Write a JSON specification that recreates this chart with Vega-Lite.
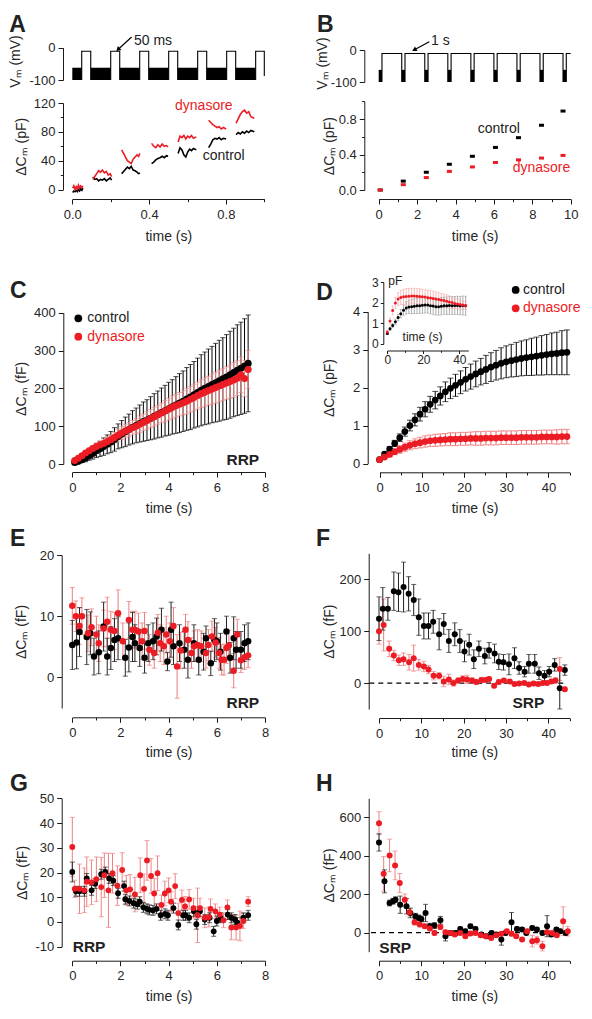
{
"$schema": "https://vega.github.io/schema/vega-lite/v6.json",
"width": 592, "height": 1019,
"autosize": {"type": "none"},
"padding": 0,
"background": "white",
"config": {
  "view": {"stroke": null},
  "axis": {"grid": false, "domainColor": "#1a1a1a", "tickColor": "#1a1a1a", "domainWidth": 1, "tickWidth": 1, "labelFont": "Liberation Sans", "labelFontSize": 13, "labelColor": "#262626", "titleFont": "Liberation Sans", "titleFontSize": 14, "titleFontWeight": "normal", "titleColor": "#262626", "labelOverlap": false, "labelFlush": false, "labelBound": false, "tickSize": 5, "labelPadding": 3, "titleBaseline": "middle"},
  "axisBottom": {"labelPadding": 4},
  "text": {"font": "Liberation Sans", "fontSize": 14, "color": "#222"}
},
"resolve": {"scale": {"x": "independent", "y": "independent"}, "axis": {"x": "independent", "y": "independent"}},
"datasets": {
 "aV": [
  {"p":0,"i":0,"t":0.049,"v":-100},{"p":0,"i":1,"t":0.049,"v":-11},{"p":0,"i":2,"t":0.096,"v":-11},{"p":0,"i":3,"t":0.096,"v":-100},
  {"p":1,"i":0,"t":0.2,"v":-100},{"p":1,"i":1,"t":0.2,"v":-11},{"p":1,"i":2,"t":0.247,"v":-11},{"p":1,"i":3,"t":0.247,"v":-100},
  {"p":2,"i":0,"t":0.351,"v":-100},{"p":2,"i":1,"t":0.351,"v":-11},{"p":2,"i":2,"t":0.398,"v":-11},{"p":2,"i":3,"t":0.398,"v":-100},
  {"p":3,"i":0,"t":0.502,"v":-100},{"p":3,"i":1,"t":0.502,"v":-11},{"p":3,"i":2,"t":0.549,"v":-11},{"p":3,"i":3,"t":0.549,"v":-100},
  {"p":4,"i":0,"t":0.653,"v":-100},{"p":4,"i":1,"t":0.653,"v":-11},{"p":4,"i":2,"t":0.7,"v":-11},{"p":4,"i":3,"t":0.7,"v":-100},
  {"p":5,"i":0,"t":0.804,"v":-100},{"p":5,"i":1,"t":0.804,"v":-11},{"p":5,"i":2,"t":0.851,"v":-11},{"p":5,"i":3,"t":0.851,"v":-100},
  {"p":6,"i":0,"t":0.955,"v":-100},{"p":6,"i":1,"t":0.955,"v":-11},{"p":6,"i":2,"t":1.0,"v":-11},{"p":6,"i":3,"t":1.0,"v":-88}
 ],
 "aBand": [
  {"t0":0,"t1":0.049},{"t0":0.096,"t1":0.2},{"t0":0.247,"t1":0.351},{"t0":0.398,"t1":0.502},{"t0":0.549,"t1":0.653},{"t0":0.7,"t1":0.804},{"t0":0.851,"t1":0.955}
 ],
 "aC": [
  {"s":"c","g":1,"t":0.002,"v":-4},{"s":"c","g":1,"t":0.008,"v":-2},{"s":"c","g":1,"t":0.014,"v":-3},{"s":"c","g":1,"t":0.02,"v":-1},{"s":"c","g":1,"t":0.026,"v":-3},{"s":"c","g":1,"t":0.032,"v":0},{"s":"c","g":1,"t":0.038,"v":-2},{"s":"c","g":1,"t":0.044,"v":1},{"s":"c","g":1,"t":0.05,"v":-1},{"s":"c","g":1,"t":0.055,"v":2},
  {"s":"c","g":2,"t":0.107,"v":17},{"s":"c","g":2,"t":0.117,"v":14},{"s":"c","g":2,"t":0.127,"v":15},{"s":"c","g":2,"t":0.137,"v":12},{"s":"c","g":2,"t":0.147,"v":14},{"s":"c","g":2,"t":0.157,"v":13},{"s":"c","g":2,"t":0.167,"v":15},{"s":"c","g":2,"t":0.177,"v":12},{"s":"c","g":2,"t":0.187,"v":14},{"s":"c","g":2,"t":0.197,"v":16},{"s":"c","g":2,"t":0.205,"v":13},
  {"s":"c","g":3,"t":0.257,"v":22},{"s":"c","g":3,"t":0.267,"v":25},{"s":"c","g":3,"t":0.277,"v":28},{"s":"c","g":3,"t":0.287,"v":31},{"s":"c","g":3,"t":0.297,"v":29},{"s":"c","g":3,"t":0.307,"v":32},{"s":"c","g":3,"t":0.317,"v":27},{"s":"c","g":3,"t":0.327,"v":26},{"s":"c","g":3,"t":0.337,"v":24},{"s":"c","g":3,"t":0.345,"v":22},{"s":"c","g":3,"t":0.352,"v":23},
  {"s":"c","g":4,"t":0.413,"v":36},{"s":"c","g":4,"t":0.424,"v":38},{"s":"c","g":4,"t":0.435,"v":41},{"s":"c","g":4,"t":0.446,"v":43},{"s":"c","g":4,"t":0.457,"v":44},{"s":"c","g":4,"t":0.468,"v":46},{"s":"c","g":4,"t":0.479,"v":44},{"s":"c","g":4,"t":0.49,"v":47},{"s":"c","g":4,"t":0.499,"v":46},
  {"s":"c","g":5,"t":0.551,"v":50},{"s":"c","g":5,"t":0.561,"v":58},{"s":"c","g":5,"t":0.571,"v":55},{"s":"c","g":5,"t":0.581,"v":48},{"s":"c","g":5,"t":0.591,"v":45},{"s":"c","g":5,"t":0.601,"v":52},{"s":"c","g":5,"t":0.611,"v":56},{"s":"c","g":5,"t":0.621,"v":54},{"s":"c","g":5,"t":0.631,"v":57},{"s":"c","g":5,"t":0.646,"v":55},
  {"s":"c","g":6,"t":0.71,"v":58},{"s":"c","g":6,"t":0.721,"v":63},{"s":"c","g":6,"t":0.732,"v":69},{"s":"c","g":6,"t":0.743,"v":71},{"s":"c","g":6,"t":0.754,"v":70},{"s":"c","g":6,"t":0.765,"v":72},{"s":"c","g":6,"t":0.776,"v":69},{"s":"c","g":6,"t":0.787,"v":71},{"s":"c","g":6,"t":0.801,"v":70},
  {"s":"c","g":7,"t":0.853,"v":76},{"s":"c","g":7,"t":0.864,"v":79},{"s":"c","g":7,"t":0.875,"v":77},{"s":"c","g":7,"t":0.886,"v":80},{"s":"c","g":7,"t":0.897,"v":78},{"s":"c","g":7,"t":0.908,"v":81},{"s":"c","g":7,"t":0.919,"v":79},{"s":"c","g":7,"t":0.93,"v":82},{"s":"c","g":7,"t":0.948,"v":80},
  {"s":"d","g":1,"t":0.002,"v":2},{"s":"d","g":1,"t":0.008,"v":5},{"s":"d","g":1,"t":0.014,"v":0},{"s":"d","g":1,"t":0.02,"v":4},{"s":"d","g":1,"t":0.026,"v":1},{"s":"d","g":1,"t":0.032,"v":6},{"s":"d","g":1,"t":0.038,"v":2},{"s":"d","g":1,"t":0.044,"v":5},{"s":"d","g":1,"t":0.05,"v":3},{"s":"d","g":1,"t":0.055,"v":5},
  {"s":"d","g":2,"t":0.107,"v":14},{"s":"d","g":2,"t":0.117,"v":18},{"s":"d","g":2,"t":0.127,"v":22},{"s":"d","g":2,"t":0.137,"v":26},{"s":"d","g":2,"t":0.147,"v":24},{"s":"d","g":2,"t":0.157,"v":27},{"s":"d","g":2,"t":0.167,"v":23},{"s":"d","g":2,"t":0.177,"v":25},{"s":"d","g":2,"t":0.187,"v":20},{"s":"d","g":2,"t":0.197,"v":22},{"s":"d","g":2,"t":0.205,"v":18},
  {"s":"d","g":3,"t":0.257,"v":55},{"s":"d","g":3,"t":0.267,"v":50},{"s":"d","g":3,"t":0.277,"v":45},{"s":"d","g":3,"t":0.287,"v":40},{"s":"d","g":3,"t":0.297,"v":38},{"s":"d","g":3,"t":0.307,"v":36},{"s":"d","g":3,"t":0.317,"v":42},{"s":"d","g":3,"t":0.327,"v":45},{"s":"d","g":3,"t":0.337,"v":48},{"s":"d","g":3,"t":0.345,"v":46},{"s":"d","g":3,"t":0.352,"v":50},
  {"s":"d","g":4,"t":0.413,"v":64},{"s":"d","g":4,"t":0.424,"v":60},{"s":"d","g":4,"t":0.435,"v":58},{"s":"d","g":4,"t":0.446,"v":62},{"s":"d","g":4,"t":0.457,"v":59},{"s":"d","g":4,"t":0.468,"v":63},{"s":"d","g":4,"t":0.479,"v":60},{"s":"d","g":4,"t":0.49,"v":61},{"s":"d","g":4,"t":0.499,"v":59},
  {"s":"d","g":5,"t":0.551,"v":66},{"s":"d","g":5,"t":0.561,"v":74},{"s":"d","g":5,"t":0.571,"v":72},{"s":"d","g":5,"t":0.581,"v":75},{"s":"d","g":5,"t":0.591,"v":70},{"s":"d","g":5,"t":0.601,"v":74},{"s":"d","g":5,"t":0.611,"v":72},{"s":"d","g":5,"t":0.621,"v":75},{"s":"d","g":5,"t":0.631,"v":71},{"s":"d","g":5,"t":0.646,"v":73},
  {"s":"d","g":6,"t":0.71,"v":96},{"s":"d","g":6,"t":0.721,"v":93},{"s":"d","g":6,"t":0.732,"v":90},{"s":"d","g":6,"t":0.743,"v":88},{"s":"d","g":6,"t":0.754,"v":86},{"s":"d","g":6,"t":0.765,"v":87},{"s":"d","g":6,"t":0.776,"v":84},{"s":"d","g":6,"t":0.787,"v":86},{"s":"d","g":6,"t":0.801,"v":84},
  {"s":"d","g":7,"t":0.853,"v":92},{"s":"d","g":7,"t":0.864,"v":98},{"s":"d","g":7,"t":0.875,"v":104},{"s":"d","g":7,"t":0.886,"v":108},{"s":"d","g":7,"t":0.897,"v":110},{"s":"d","g":7,"t":0.908,"v":106},{"s":"d","g":7,"t":0.919,"v":108},{"s":"d","g":7,"t":0.93,"v":101},{"s":"d","g":7,"t":0.948,"v":99}
 ],
 "bV": [
  {"p":0,"i":0,"t":0.17,"v":-100},{"p":0,"i":1,"t":0.17,"v":-11},{"p":0,"i":2,"t":1.2,"v":-11},{"p":0,"i":3,"t":1.2,"v":-100},
  {"p":1,"i":0,"t":1.37,"v":-100},{"p":1,"i":1,"t":1.37,"v":-11},{"p":1,"i":2,"t":2.4,"v":-11},{"p":1,"i":3,"t":2.4,"v":-100},
  {"p":2,"i":0,"t":2.57,"v":-100},{"p":2,"i":1,"t":2.57,"v":-11},{"p":2,"i":2,"t":3.6,"v":-11},{"p":2,"i":3,"t":3.6,"v":-100},
  {"p":3,"i":0,"t":3.77,"v":-100},{"p":3,"i":1,"t":3.77,"v":-11},{"p":3,"i":2,"t":4.8,"v":-11},{"p":3,"i":3,"t":4.8,"v":-100},
  {"p":4,"i":0,"t":4.97,"v":-100},{"p":4,"i":1,"t":4.97,"v":-11},{"p":4,"i":2,"t":6.0,"v":-11},{"p":4,"i":3,"t":6.0,"v":-100},
  {"p":5,"i":0,"t":6.17,"v":-100},{"p":5,"i":1,"t":6.17,"v":-11},{"p":5,"i":2,"t":7.2,"v":-11},{"p":5,"i":3,"t":7.2,"v":-100},
  {"p":6,"i":0,"t":7.37,"v":-100},{"p":6,"i":1,"t":7.37,"v":-11},{"p":6,"i":2,"t":8.4,"v":-11},{"p":6,"i":3,"t":8.4,"v":-100},
  {"p":7,"i":0,"t":8.57,"v":-100},{"p":7,"i":1,"t":8.57,"v":-11},{"p":7,"i":2,"t":9.6,"v":-11},{"p":7,"i":3,"t":9.6,"v":-100},
  {"p":8,"i":0,"t":9.77,"v":-100},{"p":8,"i":1,"t":9.77,"v":-11},{"p":8,"i":2,"t":10.0,"v":-11}
 ],
 "bBand": [
  {"t0":0,"t1":0.17},{"t0":1.2,"t1":1.37},{"t0":2.4,"t1":2.57},{"t0":3.6,"t1":3.77},{"t0":4.8,"t1":4.97},{"t0":6.0,"t1":6.17},{"t0":7.2,"t1":7.37},{"t0":8.4,"t1":8.57},{"t0":9.6,"t1":9.77}
 ],
 "bC": [
  {"s":"c","t":0.08,"v":0.0},{"s":"c","t":1.28,"v":0.1},{"s":"c","t":2.48,"v":0.2},{"s":"c","t":3.68,"v":0.29},{"s":"c","t":4.88,"v":0.38},{"s":"c","t":6.08,"v":0.48},{"s":"c","t":7.28,"v":0.59},{"s":"c","t":8.48,"v":0.73},{"s":"c","t":9.6,"v":0.89},
  {"s":"d","t":0.08,"v":0.0},{"s":"d","t":1.28,"v":0.06},{"s":"d","t":2.48,"v":0.14},{"s":"d","t":3.68,"v":0.21},{"s":"d","t":4.88,"v":0.26},{"s":"d","t":6.08,"v":0.31},{"s":"d","t":7.28,"v":0.34},{"s":"d","t":8.48,"v":0.36},{"s":"d","t":9.6,"v":0.39}
 ],
 "cD": [
  {"s":"c","t":0.1,"v":4,"e":2},{"s":"c","t":0.25,"v":7,"e":4},{"s":"c","t":0.4,"v":11,"e":7},{"s":"c","t":0.55,"v":16,"e":10},{"s":"c","t":0.7,"v":22,"e":12},{"s":"c","t":0.85,"v":28,"e":15},{"s":"c","t":1,"v":35,"e":18},{"s":"c","t":1.15,"v":40,"e":20},{"s":"c","t":1.3,"v":46,"e":23},{"s":"c","t":1.45,"v":52,"e":25},
  {"s":"c","t":1.6,"v":58,"e":28},{"s":"c","t":1.75,"v":65,"e":31},{"s":"c","t":1.9,"v":73,"e":33},{"s":"c","t":2.05,"v":79,"e":36},{"s":"c","t":2.2,"v":85,"e":39},{"s":"c","t":2.35,"v":91,"e":41},{"s":"c","t":2.5,"v":97,"e":44},{"s":"c","t":2.65,"v":102,"e":46},{"s":"c","t":2.8,"v":107,"e":49},{"s":"c","t":2.95,"v":112,"e":52},
  {"s":"c","t":3.1,"v":116,"e":54},{"s":"c","t":3.25,"v":121,"e":57},{"s":"c","t":3.4,"v":126,"e":60},{"s":"c","t":3.55,"v":131,"e":62},{"s":"c","t":3.7,"v":136,"e":65},{"s":"c","t":3.85,"v":141,"e":67},{"s":"c","t":4,"v":146,"e":70},{"s":"c","t":4.15,"v":151,"e":72},{"s":"c","t":4.3,"v":156,"e":75},{"s":"c","t":4.45,"v":161,"e":78},
  {"s":"c","t":4.6,"v":166,"e":80},{"s":"c","t":4.75,"v":172,"e":83},{"s":"c","t":4.9,"v":177,"e":86},{"s":"c","t":5.05,"v":183,"e":88},{"s":"c","t":5.2,"v":189,"e":91},{"s":"c","t":5.35,"v":195,"e":94},{"s":"c","t":5.5,"v":200,"e":96},{"s":"c","t":5.65,"v":205,"e":99},{"s":"c","t":5.8,"v":210,"e":101},{"s":"c","t":5.95,"v":215,"e":104},
  {"s":"c","t":6.1,"v":220,"e":107},{"s":"c","t":6.25,"v":225,"e":109},{"s":"c","t":6.4,"v":230,"e":112},{"s":"c","t":6.55,"v":236,"e":115},{"s":"c","t":6.7,"v":242,"e":117},{"s":"c","t":6.85,"v":248,"e":120},{"s":"c","t":7,"v":253,"e":122},{"s":"c","t":7.15,"v":259,"e":125},{"s":"c","t":7.3,"v":266,"e":128},
  {"s":"d","t":0.1,"v":9,"e":2},{"s":"d","t":0.25,"v":15,"e":4},{"s":"d","t":0.4,"v":22,"e":5},{"s":"d","t":0.55,"v":29,"e":6},{"s":"d","t":0.7,"v":35,"e":7},{"s":"d","t":0.85,"v":41,"e":8},{"s":"d","t":1,"v":46,"e":10},{"s":"d","t":1.15,"v":50,"e":11},{"s":"d","t":1.3,"v":54,"e":12},{"s":"d","t":1.45,"v":59,"e":13},
  {"s":"d","t":1.6,"v":64,"e":13},{"s":"d","t":1.75,"v":70,"e":14},{"s":"d","t":1.9,"v":76,"e":16},{"s":"d","t":2.05,"v":82,"e":17},{"s":"d","t":2.2,"v":87,"e":18},{"s":"d","t":2.35,"v":91,"e":18},{"s":"d","t":2.5,"v":96,"e":19},{"s":"d","t":2.65,"v":100,"e":20},{"s":"d","t":2.8,"v":105,"e":22},{"s":"d","t":2.95,"v":110,"e":22},
  {"s":"d","t":3.1,"v":115,"e":23},{"s":"d","t":3.25,"v":120,"e":24},{"s":"d","t":3.4,"v":125,"e":25},{"s":"d","t":3.55,"v":130,"e":25},{"s":"d","t":3.7,"v":135,"e":26},{"s":"d","t":3.85,"v":140,"e":28},{"s":"d","t":4,"v":145,"e":29},{"s":"d","t":4.15,"v":150,"e":30},{"s":"d","t":4.3,"v":154,"e":30},{"s":"d","t":4.45,"v":158,"e":31},
  {"s":"d","t":4.6,"v":162,"e":32},{"s":"d","t":4.75,"v":166,"e":34},{"s":"d","t":4.9,"v":171,"e":34},{"s":"d","t":5.05,"v":176,"e":35},{"s":"d","t":5.2,"v":181,"e":36},{"s":"d","t":5.35,"v":186,"e":37},{"s":"d","t":5.5,"v":190,"e":38},{"s":"d","t":5.65,"v":194,"e":38},{"s":"d","t":5.8,"v":198,"e":40},{"s":"d","t":5.95,"v":202,"e":41},
  {"s":"d","t":6.1,"v":206,"e":42},{"s":"d","t":6.25,"v":210,"e":42},{"s":"d","t":6.4,"v":214,"e":43},{"s":"d","t":6.55,"v":218,"e":44},{"s":"d","t":6.7,"v":222,"e":46},{"s":"d","t":6.85,"v":227,"e":46},{"s":"d","t":7,"v":236,"e":47},{"s":"d","t":7.15,"v":226,"e":48},{"s":"d","t":7.3,"v":250,"e":50}
 ],
 "dD": [
  {"s":"c","t":0,"v":0.1,"e":0.02},{"s":"c","t":1.2,"v":0.25,"e":0.04},{"s":"c","t":2.4,"v":0.38,"e":0.06},{"s":"c","t":3.6,"v":0.53,"e":0.08},{"s":"c","t":4.8,"v":0.68,"e":0.1},{"s":"c","t":6,"v":0.84,"e":0.12},{"s":"c","t":7.2,"v":1.0,"e":0.14},{"s":"c","t":8.4,"v":1.15,"e":0.16},{"s":"c","t":9.6,"v":1.3,"e":0.18},{"s":"c","t":10.8,"v":1.43,"e":0.2},
  {"s":"c","t":12,"v":1.56,"e":0.21},{"s":"c","t":13.2,"v":1.67,"e":0.23},{"s":"c","t":14.4,"v":1.78,"e":0.24},{"s":"c","t":15.6,"v":1.89,"e":0.26},{"s":"c","t":16.8,"v":1.98,"e":0.27},{"s":"c","t":18,"v":2.06,"e":0.29},{"s":"c","t":19.2,"v":2.14,"e":0.3},{"s":"c","t":20.4,"v":2.22,"e":0.31},{"s":"c","t":21.6,"v":2.29,"e":0.33},{"s":"c","t":22.8,"v":2.36,"e":0.34},
  {"s":"c","t":24,"v":2.42,"e":0.35},{"s":"c","t":25.2,"v":2.48,"e":0.37},{"s":"c","t":26.4,"v":2.54,"e":0.38},{"s":"c","t":27.6,"v":2.59,"e":0.39},{"s":"c","t":28.8,"v":2.64,"e":0.41},{"s":"c","t":30,"v":2.68,"e":0.42},{"s":"c","t":31.2,"v":2.71,"e":0.43},{"s":"c","t":32.4,"v":2.74,"e":0.45},{"s":"c","t":33.6,"v":2.77,"e":0.46},{"s":"c","t":34.8,"v":2.79,"e":0.47},
  {"s":"c","t":36,"v":2.81,"e":0.49},{"s":"c","t":37.2,"v":2.83,"e":0.5},{"s":"c","t":38.4,"v":2.85,"e":0.52},{"s":"c","t":39.6,"v":2.87,"e":0.53},{"s":"c","t":40.8,"v":2.89,"e":0.55},{"s":"c","t":42,"v":2.9,"e":0.56},{"s":"c","t":43.2,"v":2.92,"e":0.58},{"s":"c","t":44.4,"v":2.93,"e":0.59},
  {"s":"d","t":0,"v":0.1,"e":0.02},{"s":"d","t":1.2,"v":0.17,"e":0.04},{"s":"d","t":2.4,"v":0.24,"e":0.06},{"s":"d","t":3.6,"v":0.31,"e":0.08},{"s":"d","t":4.8,"v":0.37,"e":0.1},{"s":"d","t":6,"v":0.43,"e":0.11},{"s":"d","t":7.2,"v":0.48,"e":0.12},{"s":"d","t":8.4,"v":0.52,"e":0.13},{"s":"d","t":9.6,"v":0.55,"e":0.14},{"s":"d","t":10.8,"v":0.58,"e":0.15},
  {"s":"d","t":12,"v":0.6,"e":0.15},{"s":"d","t":13.2,"v":0.61,"e":0.16},{"s":"d","t":14.4,"v":0.62,"e":0.16},{"s":"d","t":15.6,"v":0.63,"e":0.16},{"s":"d","t":16.8,"v":0.64,"e":0.17},{"s":"d","t":18,"v":0.64,"e":0.17},{"s":"d","t":19.2,"v":0.65,"e":0.17},{"s":"d","t":20.4,"v":0.65,"e":0.17},{"s":"d","t":21.6,"v":0.66,"e":0.17},{"s":"d","t":22.8,"v":0.66,"e":0.18},
  {"s":"d","t":24,"v":0.66,"e":0.18},{"s":"d","t":25.2,"v":0.67,"e":0.18},{"s":"d","t":26.4,"v":0.67,"e":0.18},{"s":"d","t":27.6,"v":0.67,"e":0.18},{"s":"d","t":28.8,"v":0.68,"e":0.18},{"s":"d","t":30,"v":0.68,"e":0.18},{"s":"d","t":31.2,"v":0.68,"e":0.18},{"s":"d","t":32.4,"v":0.68,"e":0.18},{"s":"d","t":33.6,"v":0.69,"e":0.18},{"s":"d","t":34.8,"v":0.69,"e":0.18},
  {"s":"d","t":36,"v":0.69,"e":0.18},{"s":"d","t":37.2,"v":0.69,"e":0.18},{"s":"d","t":38.4,"v":0.7,"e":0.18},{"s":"d","t":39.6,"v":0.7,"e":0.18},{"s":"d","t":40.8,"v":0.7,"e":0.18},{"s":"d","t":42,"v":0.7,"e":0.19},{"s":"d","t":43.2,"v":0.71,"e":0.19},{"s":"d","t":44.4,"v":0.71,"e":0.19}
 ],
 "iD": [
  {"s":"c","t":0,"v":0.49,"e":0.05},{"s":"c","t":1.5,"v":0.73,"e":0.08},{"s":"c","t":3,"v":0.89,"e":0.1},{"s":"c","t":4.5,"v":1.07,"e":0.13},{"s":"c","t":6,"v":1.27,"e":0.16},{"s":"c","t":7.5,"v":1.46,"e":0.2},{"s":"c","t":9,"v":1.63,"e":0.25},{"s":"c","t":10.5,"v":1.74,"e":0.3},{"s":"c","t":12,"v":1.79,"e":0.33},{"s":"c","t":13.5,"v":1.8,"e":0.35},
  {"s":"c","t":15,"v":1.82,"e":0.36},{"s":"c","t":16.5,"v":1.84,"e":0.37},{"s":"c","t":18,"v":1.85,"e":0.38},{"s":"c","t":19.5,"v":1.87,"e":0.38},{"s":"c","t":21,"v":1.88,"e":0.39},{"s":"c","t":22.5,"v":1.88,"e":0.39},{"s":"c","t":24,"v":1.85,"e":0.4},{"s":"c","t":25.5,"v":1.83,"e":0.4},{"s":"c","t":27,"v":1.8,"e":0.41},{"s":"c","t":28.5,"v":1.8,"e":0.41},
  {"s":"c","t":30,"v":1.82,"e":0.42},{"s":"c","t":31.5,"v":1.85,"e":0.42},{"s":"c","t":33,"v":1.84,"e":0.43},{"s":"c","t":34.5,"v":1.86,"e":0.43},{"s":"c","t":36,"v":1.85,"e":0.44},{"s":"c","t":37.5,"v":1.86,"e":0.44},{"s":"c","t":39,"v":1.86,"e":0.45},{"s":"c","t":40.5,"v":1.85,"e":0.45},{"s":"c","t":42,"v":1.86,"e":0.46},{"s":"c","t":43.5,"v":1.85,"e":0.46},
  {"s":"d","t":0,"v":0.57,"e":0.08},{"s":"d","t":1.5,"v":1.1,"e":0.15},{"s":"d","t":3,"v":1.62,"e":0.22},{"s":"d","t":4.5,"v":1.98,"e":0.28},{"s":"d","t":6,"v":2.17,"e":0.32},{"s":"d","t":7.5,"v":2.25,"e":0.35},{"s":"d","t":9,"v":2.28,"e":0.37},{"s":"d","t":10.5,"v":2.3,"e":0.38},{"s":"d","t":12,"v":2.31,"e":0.38},{"s":"d","t":13.5,"v":2.32,"e":0.38},
  {"s":"d","t":15,"v":2.32,"e":0.38},{"s":"d","t":16.5,"v":2.31,"e":0.38},{"s":"d","t":18,"v":2.3,"e":0.38},{"s":"d","t":19.5,"v":2.28,"e":0.37},{"s":"d","t":21,"v":2.27,"e":0.37},{"s":"d","t":22.5,"v":2.24,"e":0.36},{"s":"d","t":24,"v":2.22,"e":0.36},{"s":"d","t":25.5,"v":2.2,"e":0.35},{"s":"d","t":27,"v":2.17,"e":0.35},{"s":"d","t":28.5,"v":2.15,"e":0.34},
  {"s":"d","t":30,"v":2.12,"e":0.33},{"s":"d","t":31.5,"v":2.1,"e":0.32},{"s":"d","t":33,"v":2.07,"e":0.31},{"s":"d","t":34.5,"v":2.03,"e":0.3},{"s":"d","t":36,"v":2.0,"e":0.28},{"s":"d","t":37.5,"v":1.96,"e":0.26},{"s":"d","t":39,"v":1.93,"e":0.24},{"s":"d","t":40.5,"v":1.9,"e":0.22},{"s":"d","t":42,"v":1.88,"e":0.2},{"s":"d","t":43.5,"v":1.86,"e":0.18}
 ],
 "eD": [
  {"s":"c","t":0,"v":5.3,"e":4},{"s":"c","t":0.18,"v":5.7,"e":4.3},{"s":"c","t":0.3,"v":7.4,"e":4},{"s":"c","t":0.6,"v":6.6,"e":4.5},{"s":"c","t":0.75,"v":7.2,"e":3.5},{"s":"c","t":0.9,"v":3.4,"e":3},{"s":"c","t":1.1,"v":4.1,"e":3.5},{"s":"c","t":1.3,"v":8.3,"e":4},{"s":"c","t":1.45,"v":3.4,"e":3},{"s":"c","t":1.6,"v":4.8,"e":3.5},
  {"s":"c","t":1.75,"v":6.1,"e":3.5},{"s":"c","t":1.9,"v":6.4,"e":3.5},{"s":"c","t":2.2,"v":3.2,"e":3},{"s":"c","t":2.35,"v":4.9,"e":4},{"s":"c","t":2.5,"v":6.6,"e":4},{"s":"c","t":2.6,"v":5.6,"e":3},{"s":"c","t":2.8,"v":4.8,"e":3},{"s":"c","t":3.0,"v":3.2,"e":2.5},{"s":"c","t":3.15,"v":5.6,"e":3},{"s":"c","t":3.35,"v":5.9,"e":3},
  {"s":"c","t":3.5,"v":6.7,"e":3},{"s":"c","t":3.7,"v":7.8,"e":3.5},{"s":"c","t":3.95,"v":2.6,"e":1.5},{"s":"c","t":4.1,"v":7.8,"e":4.5},{"s":"c","t":4.2,"v":5.1,"e":3},{"s":"c","t":4.45,"v":5.6,"e":3},{"s":"c","t":4.65,"v":4.5,"e":3},{"s":"c","t":4.8,"v":2.9,"e":3},{"s":"c","t":5.05,"v":5.6,"e":3},{"s":"c","t":5.25,"v":2.9,"e":2.5},
  {"s":"c","t":5.45,"v":4.2,"e":3},{"s":"c","t":5.55,"v":6.4,"e":2},{"s":"c","t":5.75,"v":2.3,"e":2},{"s":"c","t":5.9,"v":6.1,"e":3.5},{"s":"c","t":6.0,"v":5.9,"e":3},{"s":"c","t":6.15,"v":4.2,"e":3},{"s":"c","t":6.4,"v":7.5,"e":2.5},{"s":"c","t":6.55,"v":3.2,"e":2.5},{"s":"c","t":6.7,"v":6.4,"e":3.5},{"s":"c","t":6.8,"v":4.5,"e":3},
  {"s":"c","t":7.0,"v":4.5,"e":3},{"s":"c","t":7.15,"v":5.6,"e":3},{"s":"c","t":7.3,"v":5.9,"e":3},
  {"s":"d","t":0,"v":11.7,"e":3},{"s":"d","t":0.15,"v":10,"e":2.5},{"s":"d","t":0.3,"v":8.4,"e":3},{"s":"d","t":0.4,"v":10,"e":3},{"s":"d","t":0.65,"v":7.2,"e":3},{"s":"d","t":0.8,"v":8.2,"e":3},{"s":"d","t":1.0,"v":7.0,"e":3},{"s":"d","t":1.1,"v":5.6,"e":3},{"s":"d","t":1.3,"v":8.0,"e":3},{"s":"d","t":1.45,"v":9.1,"e":4},
  {"s":"d","t":1.6,"v":7.8,"e":3},{"s":"d","t":1.75,"v":7.6,"e":3},{"s":"d","t":1.9,"v":10.5,"e":3.8},{"s":"d","t":2.1,"v":5.9,"e":3},{"s":"d","t":2.35,"v":9.4,"e":3},{"s":"d","t":2.5,"v":7.8,"e":3},{"s":"d","t":2.6,"v":7.8,"e":3},{"s":"d","t":2.75,"v":7.5,"e":3},{"s":"d","t":2.9,"v":5.9,"e":3},{"s":"d","t":3.0,"v":7.6,"e":3},
  {"s":"d","t":3.2,"v":4.5,"e":2.5},{"s":"d","t":3.4,"v":4.0,"e":2.5},{"s":"d","t":3.55,"v":7.3,"e":3},{"s":"d","t":3.65,"v":5.6,"e":3},{"s":"d","t":3.8,"v":5.1,"e":3},{"s":"d","t":3.9,"v":7.0,"e":3},{"s":"d","t":4.05,"v":5.9,"e":3},{"s":"d","t":4.2,"v":8.4,"e":3},{"s":"d","t":4.35,"v":1.8,"e":5.2},{"s":"d","t":4.5,"v":4.4,"e":3},
  {"s":"d","t":4.7,"v":7.8,"e":2.5},{"s":"d","t":4.8,"v":6.1,"e":3},{"s":"d","t":4.95,"v":4.0,"e":2.5},{"s":"d","t":5.05,"v":5.1,"e":2.5},{"s":"d","t":5.2,"v":5.3,"e":2.5},{"s":"d","t":5.35,"v":5.1,"e":2.5},{"s":"d","t":5.55,"v":4.0,"e":2.5},{"s":"d","t":5.65,"v":5.3,"e":2.5},{"s":"d","t":5.8,"v":6.7,"e":2.5},{"s":"d","t":5.95,"v":5.7,"e":2.5},
  {"s":"d","t":6.1,"v":4.0,"e":2.5},{"s":"d","t":6.2,"v":2.9,"e":2.5},{"s":"d","t":6.3,"v":2.9,"e":2.5},{"s":"d","t":6.4,"v":4.8,"e":2.5},{"s":"d","t":6.5,"v":5.2,"e":2.5},{"s":"d","t":6.7,"v":1.1,"e":2.8},{"s":"d","t":6.85,"v":7.0,"e":2.5},{"s":"d","t":7.0,"v":2.8,"e":2},{"s":"d","t":7.15,"v":3.3,"e":2},{"s":"d","t":7.3,"v":3.6,"e":2}
 ],
 "fD": [
  {"s":"c","t":0,"v":124,"e":42},{"s":"c","t":0.9,"v":143,"e":41},{"s":"c","t":2.1,"v":143,"e":22},{"s":"c","t":3.5,"v":177,"e":37},{"s":"c","t":4.6,"v":175,"e":37},{"s":"c","t":5.8,"v":185,"e":48},{"s":"c","t":7.0,"v":172,"e":33},{"s":"c","t":8.2,"v":160,"e":30},{"s":"c","t":9.4,"v":127,"e":35},{"s":"c","t":10.6,"v":110,"e":25},
  {"s":"c","t":11.7,"v":110,"e":25},{"s":"c","t":12.8,"v":118,"e":22},{"s":"c","t":14.2,"v":94,"e":30},{"s":"c","t":15.3,"v":114,"e":20},{"s":"c","t":16.5,"v":81,"e":22},{"s":"c","t":17.9,"v":94,"e":22},{"s":"c","t":19.1,"v":81,"e":22},{"s":"c","t":20.2,"v":61,"e":20},{"s":"c","t":21.3,"v":74,"e":20},{"s":"c","t":22.4,"v":46,"e":18},
  {"s":"c","t":23.6,"v":66,"e":15},{"s":"c","t":25.0,"v":52,"e":15},{"s":"c","t":26.0,"v":63,"e":15},{"s":"c","t":27.3,"v":57,"e":18},{"s":"c","t":28.3,"v":41,"e":15},{"s":"c","t":29.4,"v":40,"e":15},{"s":"c","t":30.7,"v":36,"e":20},{"s":"c","t":32.0,"v":48,"e":20},{"s":"c","t":33.1,"v":29,"e":12},{"s":"c","t":34.4,"v":22,"e":10},
  {"s":"c","t":35.4,"v":37,"e":18},{"s":"c","t":36.8,"v":37,"e":18},{"s":"c","t":37.8,"v":19,"e":12},{"s":"c","t":39.1,"v":14,"e":10},{"s":"c","t":40.2,"v":22,"e":10},{"s":"c","t":41.5,"v":35,"e":12},{"s":"c","t":42.7,"v":-10,"e":40},{"s":"c","t":43.9,"v":25,"e":10},
  {"s":"d","t":0,"v":100,"e":25},{"s":"d","t":1.1,"v":112,"e":50},{"s":"d","t":2.4,"v":66,"e":15},{"s":"d","t":3.5,"v":53,"e":10},{"s":"d","t":4.7,"v":44,"e":10},{"s":"d","t":5.8,"v":46,"e":12},{"s":"d","t":7.1,"v":40,"e":15},{"s":"d","t":8.2,"v":48,"e":25},{"s":"d","t":9.4,"v":35,"e":10},{"s":"d","t":10.6,"v":32,"e":10},
  {"s":"d","t":11.7,"v":26,"e":8},{"s":"d","t":12.9,"v":14,"e":8},{"s":"d","t":14.2,"v":14,"e":6},{"s":"d","t":15.3,"v":3,"e":10},{"s":"d","t":16.5,"v":7,"e":10},{"s":"d","t":17.6,"v":0,"e":6},{"s":"d","t":18.7,"v":5,"e":5},{"s":"d","t":19.8,"v":8,"e":6},{"s":"d","t":20.8,"v":7,"e":8},{"s":"d","t":22.0,"v":5,"e":5},
  {"s":"d","t":23.0,"v":2,"e":5},{"s":"d","t":24.2,"v":6,"e":5},{"s":"d","t":25.2,"v":6,"e":4},{"s":"d","t":26.0,"v":8,"e":4},{"s":"d","t":27.2,"v":-5,"e":4},{"s":"d","t":28.3,"v":2,"e":4},{"s":"d","t":29.5,"v":5,"e":4},{"s":"d","t":30.9,"v":3,"e":4},{"s":"d","t":32.0,"v":-2,"e":3},{"s":"d","t":33.1,"v":-1,"e":3},
  {"s":"d","t":34.3,"v":0,"e":3},{"s":"d","t":35.4,"v":-3,"e":3},{"s":"d","t":36.5,"v":-1,"e":3},{"s":"d","t":37.6,"v":-2,"e":3},{"s":"d","t":38.7,"v":0,"e":3},{"s":"d","t":39.7,"v":0,"e":3},{"s":"d","t":40.7,"v":3,"e":3},{"s":"d","t":41.7,"v":5,"e":5},{"s":"d","t":42.7,"v":27,"e":22},{"s":"d","t":43.9,"v":-12,"e":4}
 ],
 "gD": [
  {"s":"c","t":0,"v":20.2,"e":4},{"s":"c","t":0.15,"v":12.4,"e":2},{"s":"c","t":0.3,"v":12.4,"e":2},{"s":"c","t":0.5,"v":12.4,"e":2},{"s":"c","t":0.6,"v":17.6,"e":2},{"s":"c","t":0.8,"v":12.8,"e":2},{"s":"c","t":0.95,"v":15.5,"e":2},{"s":"c","t":1.2,"v":19.3,"e":2},{"s":"c","t":1.37,"v":20.2,"e":2},{"s":"c","t":1.53,"v":17.6,"e":2},
  {"s":"c","t":1.7,"v":16.7,"e":2},{"s":"c","t":1.9,"v":11.6,"e":2},{"s":"c","t":2.15,"v":14.5,"e":2},{"s":"c","t":2.2,"v":9.2,"e":2},{"s":"c","t":2.37,"v":8.5,"e":2},{"s":"c","t":2.55,"v":7.6,"e":2},{"s":"c","t":2.7,"v":7.2,"e":2},{"s":"c","t":2.8,"v":8.2,"e":2},{"s":"c","t":2.95,"v":5.9,"e":2},{"s":"c","t":3.1,"v":5.3,"e":2},
  {"s":"c","t":3.2,"v":4.9,"e":2},{"s":"c","t":3.35,"v":4.7,"e":2},{"s":"c","t":3.5,"v":5.3,"e":2},{"s":"c","t":3.67,"v":2.7,"e":2},{"s":"c","t":3.85,"v":3.3,"e":2},{"s":"c","t":3.97,"v":2.7,"e":2},{"s":"c","t":4.2,"v":5.6,"e":2},{"s":"c","t":4.4,"v":-1.2,"e":2},{"s":"c","t":4.6,"v":2.7,"e":2},{"s":"c","t":4.7,"v":2.7,"e":2},
  {"s":"c","t":4.85,"v":1.7,"e":2},{"s":"c","t":5.05,"v":4.3,"e":2},{"s":"c","t":5.15,"v":-0.9,"e":2},{"s":"c","t":5.3,"v":4.3,"e":2},{"s":"c","t":5.5,"v":1.0,"e":2},{"s":"c","t":5.7,"v":1.7,"e":2},{"s":"c","t":5.87,"v":-3.8,"e":2},{"s":"c","t":6.0,"v":0.4,"e":2},{"s":"c","t":6.15,"v":1.7,"e":2},{"s":"c","t":6.45,"v":3.0,"e":2},
  {"s":"c","t":6.6,"v":1.7,"e":2},{"s":"c","t":6.75,"v":1.0,"e":2},{"s":"c","t":6.85,"v":-0.3,"e":2},{"s":"c","t":7.1,"v":1.7,"e":2},{"s":"c","t":7.3,"v":2.7,"e":2},
  {"s":"d","t":0,"v":30.3,"e":12},{"s":"d","t":0.1,"v":13.4,"e":3.5},{"s":"d","t":0.3,"v":13.4,"e":10},{"s":"d","t":0.5,"v":12.8,"e":9},{"s":"d","t":0.6,"v":16.3,"e":10},{"s":"d","t":0.8,"v":16,"e":9},{"s":"d","t":1.0,"v":17.3,"e":9},{"s":"d","t":1.2,"v":14.1,"e":12},{"s":"d","t":1.33,"v":18.9,"e":9},{"s":"d","t":1.5,"v":12.8,"e":15},
  {"s":"d","t":1.67,"v":19.7,"e":8},{"s":"d","t":1.87,"v":14.7,"e":8},{"s":"d","t":2.07,"v":21,"e":7},{"s":"d","t":2.24,"v":12.8,"e":6},{"s":"d","t":2.4,"v":13.2,"e":6},{"s":"d","t":2.6,"v":11.1,"e":7},{"s":"d","t":2.82,"v":18.9,"e":7},{"s":"d","t":2.98,"v":13.4,"e":6},{"s":"d","t":3.1,"v":24.9,"e":8},{"s":"d","t":3.27,"v":18.6,"e":7},
  {"s":"d","t":3.4,"v":11.5,"e":6},{"s":"d","t":3.54,"v":19.7,"e":7},{"s":"d","t":3.7,"v":6.9,"e":4},{"s":"d","t":3.84,"v":11.5,"e":5},{"s":"d","t":4.0,"v":12.8,"e":5},{"s":"d","t":4.1,"v":8.2,"e":4},{"s":"d","t":4.27,"v":14.5,"e":5},{"s":"d","t":4.4,"v":3.6,"e":4},{"s":"d","t":4.55,"v":8.9,"e":4},{"s":"d","t":4.68,"v":6.3,"e":4},
  {"s":"d","t":4.85,"v":9.1,"e":4},{"s":"d","t":5.03,"v":5.6,"e":4},{"s":"d","t":5.2,"v":2.7,"e":11},{"s":"d","t":5.3,"v":5.6,"e":4},{"s":"d","t":5.5,"v":1.7,"e":4},{"s":"d","t":5.67,"v":2.0,"e":4},{"s":"d","t":5.74,"v":5.3,"e":4},{"s":"d","t":5.94,"v":4.3,"e":3},{"s":"d","t":6.12,"v":3.0,"e":3},{"s":"d","t":6.28,"v":0.7,"e":3},
  {"s":"d","t":6.44,"v":5.9,"e":3},{"s":"d","t":6.6,"v":-2.2,"e":5},{"s":"d","t":6.8,"v":-2.2,"e":5},{"s":"d","t":6.96,"v":-1.6,"e":6},{"s":"d","t":7.1,"v":0.4,"e":3},{"s":"d","t":7.3,"v":8.2,"e":2}
 ],
 "hD": [
  {"s":"c","t":0,"v":470,"e":45},{"s":"c","t":1.3,"v":267,"e":60},{"s":"c","t":2.5,"v":154,"e":15},{"s":"c","t":3.3,"v":163,"e":15},{"s":"c","t":3.9,"v":171,"e":15},{"s":"c","t":5.0,"v":145,"e":45},{"s":"c","t":6.5,"v":137,"e":40},{"s":"c","t":7.4,"v":102,"e":25},{"s":"c","t":8.6,"v":85,"e":15},{"s":"c","t":9.4,"v":76,"e":15},
  {"s":"c","t":10,"v":71,"e":15},{"s":"c","t":11,"v":102,"e":45},{"s":"c","t":12,"v":33,"e":15},{"s":"c","t":13.1,"v":36,"e":15},{"s":"c","t":14.5,"v":64,"e":20},{"s":"c","t":15.7,"v":-19,"e":25},{"s":"c","t":16.9,"v":-2,"e":12},{"s":"c","t":18.1,"v":-2,"e":12},{"s":"c","t":19.2,"v":19,"e":10},{"s":"c","t":20.4,"v":7,"e":10},
  {"s":"c","t":21.6,"v":33,"e":10},{"s":"c","t":22.8,"v":19,"e":10},{"s":"c","t":24.2,"v":-10,"e":10},{"s":"c","t":25.4,"v":-19,"e":10},{"s":"c","t":26.6,"v":-2,"e":10},{"s":"c","t":27.7,"v":-10,"e":10},{"s":"c","t":28.9,"v":-36,"e":30},{"s":"c","t":29.9,"v":-2,"e":10},{"s":"c","t":31.3,"v":54,"e":50},{"s":"c","t":32.6,"v":19,"e":10},
  {"s":"c","t":33.8,"v":16,"e":10},{"s":"c","t":34.8,"v":-2,"e":10},{"s":"c","t":36.2,"v":24,"e":10},{"s":"c","t":37.3,"v":16,"e":10},{"s":"c","t":38.6,"v":-2,"e":10},{"s":"c","t":39.7,"v":33,"e":55},{"s":"c","t":40.7,"v":-10,"e":10},{"s":"c","t":41.9,"v":16,"e":10},{"s":"c","t":42.8,"v":7,"e":10},{"s":"c","t":44.1,"v":-2,"e":10},
  {"s":"d","t":0,"v":570,"e":60},{"s":"d","t":1.1,"v":306,"e":90},{"s":"d","t":2.5,"v":402,"e":85},{"s":"d","t":3.8,"v":350,"e":75},{"s":"d","t":4.9,"v":258,"e":50},{"s":"d","t":6.1,"v":171,"e":30},{"s":"d","t":7.2,"v":106,"e":20},{"s":"d","t":8.4,"v":54,"e":15},{"s":"d","t":9.6,"v":42,"e":12},{"s":"d","t":10.8,"v":33,"e":12},
  {"s":"d","t":12,"v":21,"e":12},{"s":"d","t":13.1,"v":-2,"e":12},{"s":"d","t":14.5,"v":29,"e":12},{"s":"d","t":15.7,"v":2,"e":10},{"s":"d","t":16.9,"v":-2,"e":10},{"s":"d","t":17.9,"v":-10,"e":10},{"s":"d","t":19.2,"v":-2,"e":10},{"s":"d","t":20.4,"v":-19,"e":10},{"s":"d","t":21.6,"v":-5,"e":10},{"s":"d","t":22.8,"v":-2,"e":10},
  {"s":"d","t":24,"v":-14,"e":10},{"s":"d","t":25.2,"v":-19,"e":10},{"s":"d","t":26.5,"v":-28,"e":10},{"s":"d","t":27.7,"v":-14,"e":10},{"s":"d","t":28.9,"v":-7,"e":10},{"s":"d","t":30.2,"v":7,"e":10},{"s":"d","t":31.3,"v":-7,"e":10},{"s":"d","t":32.4,"v":-19,"e":10},{"s":"d","t":33.8,"v":-36,"e":10},{"s":"d","t":35,"v":7,"e":10},
  {"s":"d","t":36.2,"v":-45,"e":30},{"s":"d","t":37.3,"v":-40,"e":20},{"s":"d","t":38.6,"v":-71,"e":25},{"s":"d","t":39.7,"v":2,"e":10},{"s":"d","t":40.9,"v":-2,"e":10},{"s":"d","t":42,"v":-14,"e":10},{"s":"d","t":43.5,"v":59,"e":75},{"s":"d","t":44.6,"v":7,"e":25}
 ]
},
"layer": [
 {"data": {"name": "aV"}, "mark": {"type": "line", "color": "#000", "strokeWidth": 1.1},
  "encoding": {"x": {"field": "t", "type": "quantitative", "scale": {"domain": [0, 1], "range": [72.3, 264.3], "nice": false}, "axis": null},
   "y": {"field": "v", "type": "quantitative", "scale": {"domain": [-100, 0], "range": [80, 47.7], "nice": false}, "axis": {"orient": "left", "offset": -63, "values": [-100, 0], "labelExpr": "''+datum.value", "title": "Vₘ (mV)", "titleX": -48, "titleY": 61}},
   "detail": {"field": "p"}, "order": {"field": "i"}}},
 {"data": {"name": "aBand"}, "mark": {"type": "rect", "color": "#000"},
  "encoding": {"x": {"field": "t0", "type": "quantitative", "scale": {"domain": [0, 1], "range": [72.3, 264.3], "nice": false}, "axis": null}, "x2": {"field": "t1"},
   "y": {"datum": -62, "type": "quantitative", "scale": {"domain": [-100, 0], "range": [80, 47.7], "nice": false}, "axis": null}, "y2": {"datum": -100}}},
 {"data": {"values": [{}]}, "mark": {"type": "text", "text": "A", "fontSize": 23, "fontWeight": "bold", "align": "left", "baseline": "alphabetic"},
  "encoding": {"x": {"datum": -0.328, "type": "quantitative", "scale": {"domain": [0, 1], "range": [72.3, 264.3], "nice": false}, "axis": null}, "y": {"datum": 49.5, "type": "quantitative", "scale": {"domain": [-100, 0], "range": [80, 47.7], "nice": false}, "axis": null}}},
 {"data": {"values": [{}]}, "mark": {"type": "text", "text": "50 ms", "align": "left", "baseline": "alphabetic"},
  "encoding": {"x": {"datum": 0.321, "type": "quantitative", "scale": {"domain": [0, 1], "range": [72.3, 264.3], "nice": false}, "axis": null}, "y": {"datum": 8.4, "type": "quantitative", "scale": {"domain": [-100, 0], "range": [80, 47.7], "nice": false}, "axis": null}}},
 {"data": {"values": [{}]}, "mark": {"type": "rule", "color": "#000", "strokeWidth": 1.2},
  "encoding": {"x": {"datum": 0.309, "type": "quantitative", "scale": {"domain": [0, 1], "range": [72.3, 264.3], "nice": false}, "axis": null}, "x2": {"datum": 0.241}, "y": {"datum": 33, "type": "quantitative", "scale": {"domain": [-100, 0], "range": [80, 47.7], "nice": false}, "axis": null}, "y2": {"datum": -4}}},
 {"data": {"values": [{}]}, "mark": {"type": "point", "shape": "triangle", "filled": true, "opacity": 1, "size": 28, "angle": 227.6, "color": "#000"},
  "encoding": {"x": {"datum": 0.241, "type": "quantitative", "scale": {"domain": [0, 1], "range": [72.3, 264.3], "nice": false}, "axis": null}, "y": {"datum": -4, "type": "quantitative", "scale": {"domain": [-100, 0], "range": [80, 47.7], "nice": false}, "axis": null}}},

 {"data": {"name": "aC"}, "transform": [{"filter": "datum.s=='c'"}], "mark": {"type": "line", "color": "#000", "strokeWidth": 1.6},
  "encoding": {"x": {"field": "t", "type": "quantitative", "scale": {"domain": [0, 1], "range": [72.3, 264.3], "nice": false}, "axis": {"orient": "bottom", "offset": -820, "values": [0, 0.2, 0.4, 0.6, 0.8, 1], "labelExpr": "round(datum.value*10)%4==0 ? format(datum.value,'.1f') : ''", "tickDash": {"condition": {"test": "round(datum.value*10)%4==0", "value": []}, "value": [2.7, 20]}, "title": "time (s)", "titleY": 37}},
   "y": {"field": "v", "type": "quantitative", "scale": {"domain": [0, 120], "range": [189.5, 103], "nice": false}, "axis": {"orient": "left", "offset": -63, "values": [0, 20, 40, 60, 80, 100, 120], "labelExpr": "datum.value%40==0 ? ''+datum.value : ''", "tickDash": {"condition": {"test": "datum.value%40==0", "value": []}, "value": [2.7, 20]}, "title": "ΔCₘ (pF)", "titleX": -42}},
   "detail": {"field": "g"}}},
 {"data": {"name": "aC"}, "transform": [{"filter": "datum.s=='d'"}], "mark": {"type": "line", "color": "#ec1c24", "strokeWidth": 1.6},
  "encoding": {"x": {"field": "t", "type": "quantitative", "scale": {"domain": [0, 1], "range": [72.3, 264.3], "nice": false}, "axis": null},
   "y": {"field": "v", "type": "quantitative", "scale": {"domain": [0, 120], "range": [189.5, 103], "nice": false}, "axis": null},
   "detail": {"field": "g"}}},
 {"data": {"values": [{}]}, "mark": {"type": "text", "text": "dynasore", "color": "#ec1c24", "align": "left", "baseline": "alphabetic"},
  "encoding": {"x": {"datum": 0.535, "type": "quantitative", "scale": {"domain": [0, 1], "range": [72.3, 264.3], "nice": false}, "axis": null}, "y": {"datum": 109.6, "type": "quantitative", "scale": {"domain": [0, 120], "range": [189.5, 103], "nice": false}, "axis": null}}},
 {"data": {"values": [{}]}, "mark": {"type": "text", "text": "control", "align": "left", "baseline": "alphabetic"},
  "encoding": {"x": {"datum": 0.679, "type": "quantitative", "scale": {"domain": [0, 1], "range": [72.3, 264.3], "nice": false}, "axis": null}, "y": {"datum": 40.9, "type": "quantitative", "scale": {"domain": [0, 120], "range": [189.5, 103], "nice": false}, "axis": null}}},

 {"data": {"name": "bV"}, "mark": {"type": "line", "color": "#000", "strokeWidth": 1.1},
  "encoding": {"x": {"field": "t", "type": "quantitative", "scale": {"domain": [0, 10], "range": [378.7, 570.7], "nice": false}, "axis": null},
   "y": {"field": "v", "type": "quantitative", "scale": {"domain": [-100, 0], "range": [82, 50], "nice": false}, "axis": {"orient": "left", "offset": -364.3, "values": [-100, 0], "labelExpr": "''+datum.value", "title": "Vₘ (mV)", "titleX": -41.6, "titleY": 63}},
   "detail": {"field": "p"}, "order": {"field": "i"}}},
 {"data": {"name": "bBand"}, "mark": {"type": "rect", "color": "#000"},
  "encoding": {"x": {"field": "t0", "type": "quantitative", "scale": {"domain": [0, 10], "range": [378.7, 570.7], "nice": false}, "axis": null}, "x2": {"field": "t1"},
   "y": {"datum": -62, "type": "quantitative", "scale": {"domain": [-100, 0], "range": [82, 50], "nice": false}, "axis": null}, "y2": {"datum": -100}}},
 {"data": {"values": [{}]}, "mark": {"type": "text", "text": "B", "fontSize": 23, "fontWeight": "bold", "align": "left", "baseline": "alphabetic"},
  "encoding": {"x": {"datum": -3.21, "type": "quantitative", "scale": {"domain": [0, 10], "range": [378.7, 570.7], "nice": false}, "axis": null}, "y": {"datum": 57.2, "type": "quantitative", "scale": {"domain": [-100, 0], "range": [82, 50], "nice": false}, "axis": null}}},
 {"data": {"values": [{}]}, "mark": {"type": "text", "text": "1 s", "align": "left", "baseline": "alphabetic"},
  "encoding": {"x": {"datum": 2.724, "type": "quantitative", "scale": {"domain": [0, 10], "range": [378.7, 570.7], "nice": false}, "axis": null}, "y": {"datum": 15.6, "type": "quantitative", "scale": {"domain": [-100, 0], "range": [82, 50], "nice": false}, "axis": null}}},
 {"data": {"values": [{}]}, "mark": {"type": "rule", "color": "#000", "strokeWidth": 1.2},
  "encoding": {"x": {"datum": 2.635, "type": "quantitative", "scale": {"domain": [0, 10], "range": [378.7, 570.7], "nice": false}, "axis": null}, "x2": {"datum": 1.885}, "y": {"datum": 25.9, "type": "quantitative", "scale": {"domain": [-100, 0], "range": [82, 50], "nice": false}, "axis": null}, "y2": {"datum": 1.6}}},
 {"data": {"values": [{}]}, "mark": {"type": "point", "shape": "triangle", "filled": true, "opacity": 1, "size": 28, "angle": 241.5, "color": "#000"},
  "encoding": {"x": {"datum": 1.885, "type": "quantitative", "scale": {"domain": [0, 10], "range": [378.7, 570.7], "nice": false}, "axis": null}, "y": {"datum": 1.6, "type": "quantitative", "scale": {"domain": [-100, 0], "range": [82, 50], "nice": false}, "axis": null}}},

 {"data": {"name": "bC"}, "transform": [{"filter": "datum.s=='c'"}], "mark": {"type": "tick", "orient": "horizontal", "color": "#000", "opacity": 1, "size": 5, "thickness": 3},
  "encoding": {"x": {"field": "t", "type": "quantitative", "scale": {"domain": [0, 10], "range": [378.7, 570.7], "nice": false}, "axis": {"orient": "bottom", "offset": -820, "values": [0, 1, 2, 3, 4, 5, 6, 7, 8, 9, 10], "labelExpr": "datum.value%2==0 ? ''+datum.value : ''", "tickDash": {"condition": {"test": "datum.value%2==0", "value": []}, "value": [2.7, 20]}, "title": "time (s)", "titleY": 37}},
   "y": {"field": "v", "type": "quantitative", "scale": {"domain": [0, 1], "range": [190, 101.3], "nice": false}, "axis": {"orient": "left", "offset": -364.3, "values": [0, 0.2, 0.4, 0.6, 0.8, 1], "labelExpr": "round(datum.value*10)%4==0 ? format(datum.value,'.1f') : ''", "tickDash": {"condition": {"test": "round(datum.value*10)%4==0", "value": []}, "value": [2.7, 20]}, "title": "ΔCₘ (pF)", "titleX": -35}}}},
 {"data": {"name": "bC"}, "transform": [{"filter": "datum.s=='d'"}], "mark": {"type": "tick", "orient": "horizontal", "color": "#ec1c24", "opacity": 1, "size": 5, "thickness": 3},
  "encoding": {"x": {"field": "t", "type": "quantitative", "scale": {"domain": [0, 10], "range": [378.7, 570.7], "nice": false}, "axis": null},
   "y": {"field": "v", "type": "quantitative", "scale": {"domain": [0, 1], "range": [190, 101.3], "nice": false}, "axis": null}}},
 {"data": {"values": [{}]}, "mark": {"type": "text", "text": "control", "align": "left", "baseline": "alphabetic"},
  "encoding": {"x": {"datum": 5.16, "type": "quantitative", "scale": {"domain": [0, 10], "range": [378.7, 570.7], "nice": false}, "axis": null}, "y": {"datum": 0.639, "type": "quantitative", "scale": {"domain": [0, 1], "range": [190, 101.3], "nice": false}, "axis": null}}},
 {"data": {"values": [{}]}, "mark": {"type": "text", "text": "dynasore", "color": "#ec1c24", "align": "left", "baseline": "alphabetic"},
  "encoding": {"x": {"datum": 6.98, "type": "quantitative", "scale": {"domain": [0, 10], "range": [378.7, 570.7], "nice": false}, "axis": null}, "y": {"datum": 0.203, "type": "quantitative", "scale": {"domain": [0, 1], "range": [190, 101.3], "nice": false}, "axis": null}}},

 {"data": {"name": "cD"}, "transform": [{"filter": "datum.s=='c'"}], "mark": {"type": "errorbar", "ticks": true, "color": "#000", "thickness": 1, "size": 5},
  "encoding": {"x": {"field": "t", "type": "quantitative", "scale": {"domain": [0, 8], "range": [72.3, 265], "nice": false}, "axis": null}, "y": {"field": "v", "type": "quantitative", "scale": {"domain": [0, 400], "range": [464, 312.7], "nice": false}, "axis": null}, "yError": {"field": "e"}}},
 {"data": {"name": "cD"}, "transform": [{"filter": "datum.s=='d'"}], "mark": {"type": "errorbar", "ticks": true, "color": "#f08a8a", "thickness": 1, "size": 5},
  "encoding": {"x": {"field": "t", "type": "quantitative", "scale": {"domain": [0, 8], "range": [72.3, 265], "nice": false}, "axis": null}, "y": {"field": "v", "type": "quantitative", "scale": {"domain": [0, 400], "range": [464, 312.7], "nice": false}, "axis": null}, "yError": {"field": "e"}}},
 {"data": {"name": "cD"}, "transform": [{"filter": "datum.s=='c'"}], "mark": {"type": "point", "filled": true, "opacity": 1, "size": 50, "color": "#000"},
  "encoding": {"x": {"field": "t", "type": "quantitative", "scale": {"domain": [0, 8], "range": [72.3, 265], "nice": false}, "axis": {"orient": "bottom", "offset": -547, "values": [0, 1, 2, 3, 4, 5, 6, 7, 8], "labelExpr": "datum.value%2==0 ? ''+datum.value : ''", "tickDash": {"condition": {"test": "datum.value%2==0", "value": []}, "value": [2.7, 20]}, "title": "time (s)", "titleY": 36}},
   "y": {"field": "v", "type": "quantitative", "scale": {"domain": [0, 400], "range": [464, 312.7], "nice": false}, "axis": {"orient": "left", "offset": -63.3, "values": [0, 100, 200, 300, 400], "labelExpr": "''+datum.value", "title": "ΔCₘ (fF)", "titleX": -41.8}}}},
 {"data": {"name": "cD"}, "transform": [{"filter": "datum.s=='d'"}], "mark": {"type": "point", "filled": true, "opacity": 1, "size": 50, "color": "#ec1c24"},
  "encoding": {"x": {"field": "t", "type": "quantitative", "scale": {"domain": [0, 8], "range": [72.3, 265], "nice": false}, "axis": null}, "y": {"field": "v", "type": "quantitative", "scale": {"domain": [0, 400], "range": [464, 312.7], "nice": false}, "axis": null}}},
 {"data": {"values": [{}]}, "mark": {"type": "point", "filled": true, "opacity": 1, "size": 60, "color": "#000"},
  "encoding": {"x": {"datum": 0.25, "type": "quantitative", "scale": {"domain": [0, 8], "range": [72.3, 265], "nice": false}, "axis": null}, "y": {"datum": 385, "type": "quantitative", "scale": {"domain": [0, 400], "range": [464, 312.7], "nice": false}, "axis": null}}},
 {"data": {"values": [{}]}, "mark": {"type": "point", "filled": true, "opacity": 1, "size": 60, "color": "#ec1c24"},
  "encoding": {"x": {"datum": 0.25, "type": "quantitative", "scale": {"domain": [0, 8], "range": [72.3, 265], "nice": false}, "axis": null}, "y": {"datum": 336.5, "type": "quantitative", "scale": {"domain": [0, 400], "range": [464, 312.7], "nice": false}, "axis": null}}},
 {"data": {"values": [{}]}, "mark": {"type": "text", "text": "control", "align": "left", "baseline": "middle"},
  "encoding": {"x": {"datum": 0.623, "type": "quantitative", "scale": {"domain": [0, 8], "range": [72.3, 265], "nice": false}, "axis": null}, "y": {"datum": 385, "type": "quantitative", "scale": {"domain": [0, 400], "range": [464, 312.7], "nice": false}, "axis": null}}},
 {"data": {"values": [{}]}, "mark": {"type": "text", "text": "dynasore", "color": "#ec1c24", "align": "left", "baseline": "middle"},
  "encoding": {"x": {"datum": 0.623, "type": "quantitative", "scale": {"domain": [0, 8], "range": [72.3, 265], "nice": false}, "axis": null}, "y": {"datum": 336.5, "type": "quantitative", "scale": {"domain": [0, 400], "range": [464, 312.7], "nice": false}, "axis": null}}},
 {"data": {"values": [{}]}, "mark": {"type": "text", "text": "RRP", "fontSize": 15.5, "fontWeight": "bold", "align": "right", "baseline": "alphabetic"},
  "encoding": {"x": {"datum": 7.76, "type": "quantitative", "scale": {"domain": [0, 8], "range": [72.3, 265], "nice": false}, "axis": null}, "y": {"datum": -2.6, "type": "quantitative", "scale": {"domain": [0, 400], "range": [464, 312.7], "nice": false}, "axis": null}}},
 {"data": {"values": [{}]}, "mark": {"type": "text", "text": "C", "fontSize": 23, "fontWeight": "bold", "align": "left", "baseline": "alphabetic"},
  "encoding": {"x": {"datum": -2.586, "type": "quantitative", "scale": {"domain": [0, 8], "range": [72.3, 265], "nice": false}, "axis": null}, "y": {"datum": 438, "type": "quantitative", "scale": {"domain": [0, 400], "range": [464, 312.7], "nice": false}, "axis": null}}},

 {"data": {"name": "dD"}, "transform": [{"filter": "datum.s=='c'"}], "mark": {"type": "errorbar", "ticks": true, "color": "#000", "thickness": 1, "size": 6},
  "encoding": {"x": {"field": "t", "type": "quantitative", "scale": {"domain": [0, 45], "range": [379.5, 569.5], "nice": false}, "axis": null}, "y": {"field": "v", "type": "quantitative", "scale": {"domain": [0, 4], "range": [463.5, 311.7], "nice": false}, "axis": null}, "yError": {"field": "e"}}},
 {"data": {"name": "dD"}, "transform": [{"filter": "datum.s=='d'"}], "mark": {"type": "errorbar", "ticks": true, "color": "#ee6a6a", "thickness": 1, "size": 6},
  "encoding": {"x": {"field": "t", "type": "quantitative", "scale": {"domain": [0, 45], "range": [379.5, 569.5], "nice": false}, "axis": null}, "y": {"field": "v", "type": "quantitative", "scale": {"domain": [0, 4], "range": [463.5, 311.7], "nice": false}, "axis": null}, "yError": {"field": "e"}}},
 {"data": {"name": "dD"}, "transform": [{"filter": "datum.s=='c'"}], "mark": {"type": "point", "filled": true, "opacity": 1, "size": 45, "color": "#000"},
  "encoding": {"x": {"field": "t", "type": "quantitative", "scale": {"domain": [0, 45], "range": [379.5, 569.5], "nice": false}, "axis": {"orient": "bottom", "offset": -546.7, "values": [0, 5, 10, 15, 20, 25, 30, 35, 40, 45], "labelExpr": "datum.value%10==0 ? ''+datum.value : ''", "tickDash": {"condition": {"test": "datum.value%10==0", "value": []}, "value": [2.7, 20]}, "title": "time (s)", "titleY": 36.5}},
   "y": {"field": "v", "type": "quantitative", "scale": {"domain": [0, 4], "range": [463.5, 311.7], "nice": false}, "axis": {"orient": "left", "offset": -367.7, "values": [0, 1, 2, 3, 4], "labelExpr": "''+datum.value", "title": "ΔCₘ (pF)", "titleX": -38.7}}}},
 {"data": {"name": "dD"}, "transform": [{"filter": "datum.s=='d'"}], "mark": {"type": "point", "filled": true, "opacity": 1, "size": 45, "color": "#ec1c24"},
  "encoding": {"x": {"field": "t", "type": "quantitative", "scale": {"domain": [0, 45], "range": [379.5, 569.5], "nice": false}, "axis": null}, "y": {"field": "v", "type": "quantitative", "scale": {"domain": [0, 4], "range": [463.5, 311.7], "nice": false}, "axis": null}}},
 {"data": {"values": [{}]}, "mark": {"type": "point", "filled": true, "opacity": 1, "size": 60, "color": "#000"},
  "encoding": {"x": {"datum": 32.25, "type": "quantitative", "scale": {"domain": [0, 45], "range": [379.5, 569.5], "nice": false}, "axis": null}, "y": {"datum": 4.572, "type": "quantitative", "scale": {"domain": [0, 4], "range": [463.5, 311.7], "nice": false}, "axis": null}}},
 {"data": {"values": [{}]}, "mark": {"type": "point", "filled": true, "opacity": 1, "size": 60, "color": "#ec1c24"},
  "encoding": {"x": {"datum": 32.25, "type": "quantitative", "scale": {"domain": [0, 45], "range": [379.5, 569.5], "nice": false}, "axis": null}, "y": {"datum": 4.09, "type": "quantitative", "scale": {"domain": [0, 4], "range": [463.5, 311.7], "nice": false}, "axis": null}}},
 {"data": {"values": [{}]}, "mark": {"type": "text", "text": "control", "align": "left", "baseline": "middle"},
  "encoding": {"x": {"datum": 33.97, "type": "quantitative", "scale": {"domain": [0, 45], "range": [379.5, 569.5], "nice": false}, "axis": null}, "y": {"datum": 4.572, "type": "quantitative", "scale": {"domain": [0, 4], "range": [463.5, 311.7], "nice": false}, "axis": null}}},
 {"data": {"values": [{}]}, "mark": {"type": "text", "text": "dynasore", "color": "#ec1c24", "align": "left", "baseline": "middle"},
  "encoding": {"x": {"datum": 33.97, "type": "quantitative", "scale": {"domain": [0, 45], "range": [379.5, 569.5], "nice": false}, "axis": null}, "y": {"datum": 4.09, "type": "quantitative", "scale": {"domain": [0, 4], "range": [463.5, 311.7], "nice": false}, "axis": null}}},
 {"data": {"values": [{}]}, "mark": {"type": "text", "text": "D", "fontSize": 23, "fontWeight": "bold", "align": "left", "baseline": "alphabetic"},
  "encoding": {"x": {"datum": -15.0, "type": "quantitative", "scale": {"domain": [0, 45], "range": [379.5, 569.5], "nice": false}, "axis": null}, "y": {"datum": 4.308, "type": "quantitative", "scale": {"domain": [0, 4], "range": [463.5, 311.7], "nice": false}, "axis": null}}},

 {"data": {"name": "iD"}, "transform": [{"filter": "datum.s=='c'"}], "mark": {"type": "errorbar", "ticks": true, "color": "#8c8c8c", "thickness": 0.7, "size": 2.5},
  "encoding": {"x": {"field": "t", "type": "quantitative", "scale": {"domain": [0, 45], "range": [387.3, 468.3], "nice": false}, "axis": null}, "y": {"field": "v", "type": "quantitative", "scale": {"domain": [0, 3], "range": [343.7, 282], "nice": false}, "axis": null}, "yError": {"field": "e"}}},
 {"data": {"name": "iD"}, "transform": [{"filter": "datum.s=='d'"}], "mark": {"type": "errorbar", "ticks": true, "color": "#f4a0a0", "thickness": 0.7, "size": 2.5},
  "encoding": {"x": {"field": "t", "type": "quantitative", "scale": {"domain": [0, 45], "range": [387.3, 468.3], "nice": false}, "axis": null}, "y": {"field": "v", "type": "quantitative", "scale": {"domain": [0, 3], "range": [343.7, 282], "nice": false}, "axis": null}, "yError": {"field": "e"}}},
 {"data": {"name": "iD"}, "transform": [{"filter": "datum.s=='c'"}], "mark": {"type": "point", "filled": true, "opacity": 1, "size": 9, "color": "#000"},
  "encoding": {"x": {"field": "t", "type": "quantitative", "scale": {"domain": [0, 45], "range": [387.3, 468.3], "nice": false}, "axis": {"orient": "bottom", "offset": -668.5, "values": [0, 10, 20, 30, 40], "labelExpr": "datum.value%20==0 ? ''+datum.value : ''", "tickSize": 3, "tickDash": {"condition": {"test": "datum.value%20==0", "value": []}, "value": [1.8, 20]}, "labelFontSize": 12, "labelPadding": 1, "title": null}},
   "y": {"field": "v", "type": "quantitative", "scale": {"domain": [0, 3], "range": [343.7, 282], "nice": false}, "axis": {"orient": "left", "offset": -383.3, "values": [0, 1, 2, 3], "labelExpr": "''+datum.value", "labelFontSize": 12, "tickSize": 3, "labelPadding": 2, "title": null}}}},
 {"data": {"name": "iD"}, "transform": [{"filter": "datum.s=='d'"}], "mark": {"type": "point", "filled": true, "opacity": 1, "size": 9, "color": "#ec1c24"},
  "encoding": {"x": {"field": "t", "type": "quantitative", "scale": {"domain": [0, 45], "range": [387.3, 468.3], "nice": false}, "axis": null}, "y": {"field": "v", "type": "quantitative", "scale": {"domain": [0, 3], "range": [343.7, 282], "nice": false}, "axis": null}}},
 {"data": {"values": [{}]}, "mark": {"type": "text", "text": "pF", "fontSize": 12, "align": "left", "baseline": "alphabetic"},
  "encoding": {"x": {"datum": 0.56, "type": "quantitative", "scale": {"domain": [0, 45], "range": [387.3, 468.3], "nice": false}, "axis": null}, "y": {"datum": 2.84, "type": "quantitative", "scale": {"domain": [0, 3], "range": [343.7, 282], "nice": false}, "axis": null}}},
 {"data": {"values": [{}]}, "mark": {"type": "text", "text": "time (s)", "fontSize": 12, "align": "center", "baseline": "middle"},
  "encoding": {"x": {"datum": 19.6, "type": "quantitative", "scale": {"domain": [0, 45], "range": [387.3, 468.3], "nice": false}, "axis": null}, "y": {"datum": 0.31, "type": "quantitative", "scale": {"domain": [0, 3], "range": [343.7, 282], "nice": false}, "axis": null}}},

 {"data": {"name": "eD"}, "transform": [{"filter": "datum.s=='d'"}], "mark": {"type": "errorbar", "ticks": true, "color": "#ee7b7b", "thickness": 1, "size": 5},
  "encoding": {"x": {"field": "t", "type": "quantitative", "scale": {"domain": [0, 8], "range": [72.3, 265], "nice": false}, "axis": null}, "y": {"field": "v", "type": "quantitative", "scale": {"domain": [-5, 20], "range": [708, 555], "nice": false}, "axis": null}, "yError": {"field": "e"}}},
 {"data": {"name": "eD"}, "transform": [{"filter": "datum.s=='c'"}], "mark": {"type": "errorbar", "ticks": true, "color": "#222", "thickness": 1, "size": 5},
  "encoding": {"x": {"field": "t", "type": "quantitative", "scale": {"domain": [0, 8], "range": [72.3, 265], "nice": false}, "axis": null}, "y": {"field": "v", "type": "quantitative", "scale": {"domain": [-5, 20], "range": [708, 555], "nice": false}, "axis": null}, "yError": {"field": "e"}}},
 {"data": {"name": "eD"}, "transform": [{"filter": "datum.s=='c'"}], "mark": {"type": "point", "filled": true, "opacity": 1, "size": 42, "color": "#000"},
  "encoding": {"x": {"field": "t", "type": "quantitative", "scale": {"domain": [0, 8], "range": [72.3, 265], "nice": false}, "axis": {"orient": "bottom", "offset": -301.7, "values": [0, 1, 2, 3, 4, 5, 6, 7, 8], "labelExpr": "datum.value%2==0 ? ''+datum.value : ''", "tickDash": {"condition": {"test": "datum.value%2==0", "value": []}, "value": [2.7, 20]}, "title": "time (s)", "titleY": 35}},
   "y": {"field": "v", "type": "quantitative", "scale": {"domain": [-5, 20], "range": [708, 555], "nice": false}, "axis": {"orient": "left", "offset": -61.7, "values": [0, 10, 20], "labelExpr": "''+datum.value", "title": "ΔCₘ (fF)", "titleX": -40.7}}}},
 {"data": {"name": "eD"}, "transform": [{"filter": "datum.s=='d'"}], "mark": {"type": "point", "filled": true, "opacity": 1, "size": 42, "color": "#ec1c24"},
  "encoding": {"x": {"field": "t", "type": "quantitative", "scale": {"domain": [0, 8], "range": [72.3, 265], "nice": false}, "axis": null}, "y": {"field": "v", "type": "quantitative", "scale": {"domain": [-5, 20], "range": [708, 555], "nice": false}, "axis": null}}},
 {"data": {"values": [{}]}, "mark": {"type": "text", "text": "RRP", "fontSize": 15.5, "fontWeight": "bold", "align": "right", "baseline": "alphabetic"},
  "encoding": {"x": {"datum": 7.76, "type": "quantitative", "scale": {"domain": [0, 8], "range": [72.3, 265], "nice": false}, "axis": null}, "y": {"datum": -5.05, "type": "quantitative", "scale": {"domain": [-5, 20], "range": [708, 555], "nice": false}, "axis": null}}},
 {"data": {"values": [{}]}, "mark": {"type": "text", "text": "E", "fontSize": 23, "fontWeight": "bold", "align": "left", "baseline": "alphabetic"},
  "encoding": {"x": {"datum": -2.586, "type": "quantitative", "scale": {"domain": [0, 8], "range": [72.3, 265], "nice": false}, "axis": null}, "y": {"datum": 21.47, "type": "quantitative", "scale": {"domain": [-5, 20], "range": [708, 555], "nice": false}, "axis": null}}},

 {"data": {"values": [{}]}, "mark": {"type": "rule", "color": "#000", "strokeWidth": 1.2, "strokeDash": [5, 4]},
  "encoding": {"x": {"datum": -2.29, "type": "quantitative", "scale": {"domain": [0, 45], "range": [379, 569.5], "nice": false}, "axis": null}, "x2": {"datum": 44.1}, "y": {"datum": 0, "type": "quantitative", "scale": {"domain": [-50, 250], "range": [709, 553.3], "nice": false}, "axis": null}}},
 {"data": {"name": "fD"}, "transform": [{"filter": "datum.s=='d'"}], "mark": {"type": "errorbar", "ticks": true, "color": "#ee7b7b", "thickness": 1, "size": 5},
  "encoding": {"x": {"field": "t", "type": "quantitative", "scale": {"domain": [0, 45], "range": [379, 569.5], "nice": false}, "axis": null}, "y": {"field": "v", "type": "quantitative", "scale": {"domain": [-50, 250], "range": [709, 553.3], "nice": false}, "axis": null}, "yError": {"field": "e"}}},
 {"data": {"name": "fD"}, "transform": [{"filter": "datum.s=='c'"}], "mark": {"type": "errorbar", "ticks": true, "color": "#222", "thickness": 1, "size": 5},
  "encoding": {"x": {"field": "t", "type": "quantitative", "scale": {"domain": [0, 45], "range": [379, 569.5], "nice": false}, "axis": null}, "y": {"field": "v", "type": "quantitative", "scale": {"domain": [-50, 250], "range": [709, 553.3], "nice": false}, "axis": null}, "yError": {"field": "e"}}},
 {"data": {"name": "fD"}, "transform": [{"filter": "datum.s=='c'"}], "mark": {"type": "point", "filled": true, "opacity": 1, "size": 36, "color": "#000"},
  "encoding": {"x": {"field": "t", "type": "quantitative", "scale": {"domain": [0, 45], "range": [379, 569.5], "nice": false}, "axis": {"orient": "bottom", "offset": -301, "values": [0, 5, 10, 15, 20, 25, 30, 35, 40, 45], "labelExpr": "datum.value%10==0 ? ''+datum.value : ''", "tickDash": {"condition": {"test": "datum.value%10==0", "value": []}, "value": [2.7, 20]}, "title": "time (s)", "titleY": 34}},
   "y": {"field": "v", "type": "quantitative", "scale": {"domain": [-50, 250], "range": [709, 553.3], "nice": false}, "axis": {"orient": "left", "offset": -368.7, "values": [0, 100, 200], "labelExpr": "''+datum.value", "title": "ΔCₘ (fF)", "titleX": -39.7}}}},
 {"data": {"name": "fD"}, "transform": [{"filter": "datum.s=='d'"}], "mark": {"type": "point", "filled": true, "opacity": 1, "size": 36, "color": "#ec1c24"},
  "encoding": {"x": {"field": "t", "type": "quantitative", "scale": {"domain": [0, 45], "range": [379, 569.5], "nice": false}, "axis": null}, "y": {"field": "v", "type": "quantitative", "scale": {"domain": [-50, 250], "range": [709, 553.3], "nice": false}, "axis": null}}},
 {"data": {"values": [{}]}, "mark": {"type": "text", "text": "SRP", "fontSize": 15.5, "fontWeight": "bold", "align": "right", "baseline": "alphabetic"},
  "encoding": {"x": {"datum": 39.05, "type": "quantitative", "scale": {"domain": [0, 45], "range": [379, 569.5], "nice": false}, "axis": null}, "y": {"datum": -48.65, "type": "quantitative", "scale": {"domain": [-50, 250], "range": [709, 553.3], "nice": false}, "axis": null}}},
 {"data": {"values": [{}]}, "mark": {"type": "text", "text": "F", "fontSize": 23, "fontWeight": "bold", "align": "left", "baseline": "alphabetic"},
  "encoding": {"x": {"datum": -14.88, "type": "quantitative", "scale": {"domain": [0, 45], "range": [379, 569.5], "nice": false}, "axis": null}, "y": {"datum": 264.1, "type": "quantitative", "scale": {"domain": [-50, 250], "range": [709, 553.3], "nice": false}, "axis": null}}},

 {"data": {"name": "gD"}, "transform": [{"filter": "datum.s=='d'"}], "mark": {"type": "errorbar", "ticks": true, "color": "#ee8080", "thickness": 1, "size": 5},
  "encoding": {"x": {"field": "t", "type": "quantitative", "scale": {"domain": [0, 8], "range": [72.3, 265], "nice": false}, "axis": null}, "y": {"field": "v", "type": "quantitative", "scale": {"domain": [-10, 50], "range": [946.7, 798.3], "nice": false}, "axis": null}, "yError": {"field": "e"}}},
 {"data": {"name": "gD"}, "transform": [{"filter": "datum.s=='c'"}], "mark": {"type": "errorbar", "ticks": true, "color": "#222", "thickness": 1, "size": 5},
  "encoding": {"x": {"field": "t", "type": "quantitative", "scale": {"domain": [0, 8], "range": [72.3, 265], "nice": false}, "axis": null}, "y": {"field": "v", "type": "quantitative", "scale": {"domain": [-10, 50], "range": [946.7, 798.3], "nice": false}, "axis": null}, "yError": {"field": "e"}}},
 {"data": {"name": "gD"}, "transform": [{"filter": "datum.s=='c'"}], "mark": {"type": "point", "filled": true, "opacity": 1, "size": 34, "color": "#000"},
  "encoding": {"x": {"field": "t", "type": "quantitative", "scale": {"domain": [0, 8], "range": [72.3, 265], "nice": false}, "axis": {"orient": "bottom", "offset": -58.3, "values": [0, 1, 2, 3, 4, 5, 6, 7, 8], "labelExpr": "datum.value%2==0 ? ''+datum.value : ''", "tickDash": {"condition": {"test": "datum.value%2==0", "value": []}, "value": [2.7, 20]}, "title": "time (s)", "titleY": 36}},
   "y": {"field": "v", "type": "quantitative", "scale": {"domain": [-10, 50], "range": [946.7, 798.3], "nice": false}, "axis": {"orient": "left", "offset": -61.7, "values": [-10, 0, 10, 20, 30, 40, 50], "labelExpr": "''+datum.value", "title": "ΔCₘ (fF)", "titleX": -39.2}}}},
 {"data": {"name": "gD"}, "transform": [{"filter": "datum.s=='d'"}], "mark": {"type": "point", "filled": true, "opacity": 1, "size": 34, "color": "#ec1c24"},
  "encoding": {"x": {"field": "t", "type": "quantitative", "scale": {"domain": [0, 8], "range": [72.3, 265], "nice": false}, "axis": null}, "y": {"field": "v", "type": "quantitative", "scale": {"domain": [-10, 50], "range": [946.7, 798.3], "nice": false}, "axis": null}}},
 {"data": {"values": [{}]}, "mark": {"type": "text", "text": "RRP", "fontSize": 15.5, "fontWeight": "bold", "align": "left", "baseline": "alphabetic"},
  "encoding": {"x": {"datum": 0.017, "type": "quantitative", "scale": {"domain": [0, 8], "range": [72.3, 265], "nice": false}, "axis": null}, "y": {"datum": -12.02, "type": "quantitative", "scale": {"domain": [-10, 50], "range": [946.7, 798.3], "nice": false}, "axis": null}}},
 {"data": {"values": [{}]}, "mark": {"type": "text", "text": "G", "fontSize": 23, "fontWeight": "bold", "align": "left", "baseline": "alphabetic"},
  "encoding": {"x": {"datum": -2.586, "type": "quantitative", "scale": {"domain": [0, 8], "range": [72.3, 265], "nice": false}, "axis": null}, "y": {"datum": 53.08, "type": "quantitative", "scale": {"domain": [-10, 50], "range": [946.7, 798.3], "nice": false}, "axis": null}}},

 {"data": {"values": [{}]}, "mark": {"type": "rule", "color": "#000", "strokeWidth": 1.2, "strokeDash": [5, 4]},
  "encoding": {"x": {"datum": -1.89, "type": "quantitative", "scale": {"domain": [0, 45], "range": [379, 569.5], "nice": false}, "axis": null}, "x2": {"datum": 44.5}, "y": {"datum": 0, "type": "quantitative", "scale": {"domain": [-100, 700], "range": [951.7, 798.3], "nice": false}, "axis": null}}},
 {"data": {"name": "hD"}, "transform": [{"filter": "datum.s=='d'"}], "mark": {"type": "errorbar", "ticks": true, "color": "#ee8080", "thickness": 1, "size": 5},
  "encoding": {"x": {"field": "t", "type": "quantitative", "scale": {"domain": [0, 45], "range": [379, 569.5], "nice": false}, "axis": null}, "y": {"field": "v", "type": "quantitative", "scale": {"domain": [-100, 700], "range": [951.7, 798.3], "nice": false}, "axis": null}, "yError": {"field": "e"}}},
 {"data": {"name": "hD"}, "transform": [{"filter": "datum.s=='c'"}], "mark": {"type": "errorbar", "ticks": true, "color": "#222", "thickness": 1, "size": 5},
  "encoding": {"x": {"field": "t", "type": "quantitative", "scale": {"domain": [0, 45], "range": [379, 569.5], "nice": false}, "axis": null}, "y": {"field": "v", "type": "quantitative", "scale": {"domain": [-100, 700], "range": [951.7, 798.3], "nice": false}, "axis": null}, "yError": {"field": "e"}}},
 {"data": {"name": "hD"}, "transform": [{"filter": "datum.s=='c'"}], "mark": {"type": "point", "filled": true, "opacity": 1, "size": 36, "color": "#000"},
  "encoding": {"x": {"field": "t", "type": "quantitative", "scale": {"domain": [0, 45], "range": [379, 569.5], "nice": false}, "axis": {"orient": "bottom", "offset": -58.3, "values": [0, 5, 10, 15, 20, 25, 30, 35, 40, 45], "labelExpr": "datum.value%10==0 ? ''+datum.value : ''", "tickDash": {"condition": {"test": "datum.value%10==0", "value": []}, "value": [2.7, 20]}, "title": "time (s)", "titleY": 36}},
   "y": {"field": "v", "type": "quantitative", "scale": {"domain": [-100, 700], "range": [951.7, 798.3], "nice": false}, "axis": {"orient": "left", "offset": -368.7, "values": [0, 200, 400, 600], "labelExpr": "''+datum.value", "title": "ΔCₘ (fF)", "titleX": -39.7}}}},
 {"data": {"name": "hD"}, "transform": [{"filter": "datum.s=='d'"}], "mark": {"type": "point", "filled": true, "opacity": 1, "size": 36, "color": "#ec1c24"},
  "encoding": {"x": {"field": "t", "type": "quantitative", "scale": {"domain": [0, 45], "range": [379, 569.5], "nice": false}, "axis": null}, "y": {"field": "v", "type": "quantitative", "scale": {"domain": [-100, 700], "range": [951.7, 798.3], "nice": false}, "axis": null}}},
 {"data": {"values": [{}]}, "mark": {"type": "text", "text": "SRP", "fontSize": 15.5, "fontWeight": "bold", "align": "left", "baseline": "alphabetic"},
  "encoding": {"x": {"datum": 0.07, "type": "quantitative", "scale": {"domain": [0, 45], "range": [379, 569.5], "nice": false}, "axis": null}, "y": {"datum": -106.8, "type": "quantitative", "scale": {"domain": [-100, 700], "range": [951.7, 798.3], "nice": false}, "axis": null}}},
 {"data": {"values": [{}]}, "mark": {"type": "text", "text": "H", "fontSize": 23, "fontWeight": "bold", "align": "left", "baseline": "alphabetic"},
  "encoding": {"x": {"datum": -14.88, "type": "quantitative", "scale": {"domain": [0, 45], "range": [379, 569.5], "nice": false}, "axis": null}, "y": {"datum": 739.6, "type": "quantitative", "scale": {"domain": [-100, 700], "range": [951.7, 798.3], "nice": false}, "axis": null}}}
]
}
